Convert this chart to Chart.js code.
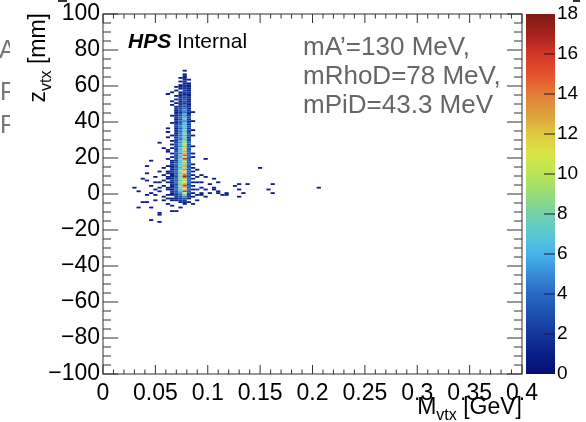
<!DOCTYPE html>
<html>
<head>
<meta charset="utf-8">
<script src="https://cdn.jsdelivr.net/npm/chart.js@4/dist/chart.umd.min.js"></script>
<style>
  html, body { margin: 0; padding: 0; background: #ffffff; }
  #wrap { width: 586px; height: 422px; }
</style>
</head>
<body>
<div id="wrap"><canvas id="chart" width="586" height="422"></canvas></div>
<script>
// 2D histogram: z_vtx [mm] vs M_vtx [GeV], bins 0.004 GeV x 1 mm
const MASS_BIN = 0.004
const Z_BIN = 1

// dense core near M = 78 MeV: lower edges of mass bins and z rows
const coreMass = [0.060, 0.064, 0.068, 0.072, 0.076, 0.080, 0.084]
const coreZ = [68, 67, 66, 65, 64, 63, 62, 61, 60, 59, 58, 57, 56, 55, 54, 53, 52, 51, 50, 49,
               48, 47, 46, 45, 44, 43, 42, 41, 40, 39, 38, 37, 36, 35, 34, 33, 32, 31, 30, 29,
               28, 27, 26, 25, 24, 23, 22, 21, 20, 19, 18, 17, 16, 15, 14, 13, 12, 11, 10, 9,
               8, 7, 6, 5, 4, 3, 2, 1, 0, -1, -2, -3, -4, -5, -6, -7, -8]
const coreCounts = [
  [0,0,0,0,1,0,0], [0,0,0,0,0,0,0], [0,0,0,0,1,0,0], [0,0,0,0,1,0,0], [0,0,0,1,1,0,0],
  [0,0,0,0,1,1,0], [0,0,0,1,2,0,0], [0,0,0,0,1,1,0], [0,0,0,1,2,1,0], [0,0,1,1,1,1,0],
  [0,0,0,1,2,1,0], [0,0,1,0,2,1,0], [0,1,0,1,2,2,0], [1,0,0,2,1,1,0], [0,0,1,1,3,1,0],
  [0,0,0,2,2,2,0], [0,0,1,2,3,1,0], [0,1,0,1,3,1,0], [0,0,1,2,2,2,0], [0,1,0,2,4,1,0],
  [0,0,1,2,3,2,0], [0,0,2,2,4,1,0], [0,0,1,3,5,2,0], [0,0,1,2,4,2,1], [0,0,2,3,6,1,0],
  [0,1,1,3,5,2,0], [0,0,2,4,6,3,0], [0,0,1,3,7,2,0], [0,0,2,4,5,2,1], [0,1,1,3,7,3,0],
  [0,0,2,4,6,2,0], [0,0,2,5,7,3,0], [1,0,1,3,6,2,0], [0,0,2,5,8,3,1], [1,0,2,4,7,2,0],
  [0,0,1,5,9,3,0], [0,1,2,4,6,3,1], [1,0,2,5,8,2,0], [0,0,3,4,7,3,0], [0,1,2,6,9,3,0],
  [0,0,2,5,9,4,0], [0,1,3,6,11,3,0], [0,0,2,5,8,3,1], [0,1,3,7,12,4,0], [1,0,2,6,10,3,0],
  [0,0,3,7,13,4,0], [0,1,3,5,9,3,1], [0,0,2,7,15,4,0], [0,1,3,6,10,4,1], [0,0,3,8,16,3,0],
  [0,1,2,7,9,4,0], [0,1,3,6,12,3,0], [0,2,4,7,8,4,1], [1,1,3,8,13,3,0], [0,2,4,6,10,4,1],
  [0,1,3,8,14,3,0], [1,2,4,9,11,4,1], [0,1,3,7,9,3,0], [0,2,4,9,15,4,1], [1,1,3,8,17,3,0],
  [0,2,4,9,12,4,1], [0,2,3,7,9,3,0], [1,1,4,9,11,4,1], [0,2,3,8,13,3,0], [0,1,4,9,16,4,1],
  [1,2,3,8,12,3,0], [0,1,4,7,10,4,1], [0,2,3,6,16,3,0], [0,1,3,5,11,3,1], [1,1,2,4,8,2,0],
  [0,0,2,3,5,2,1], [0,1,1,2,3,1,0], [0,0,1,2,2,0,0], [0,0,0,1,1,1,0], [0,0,0,0,1,0,0],
  [0,0,0,0,0,0,0], [0,0,0,1,0,0,0]
]

// scattered single bins away from the core (lower edges)
const scatterMass = [0.028, 0.032, 0.032, 0.036, 0.036, 0.040, 0.040, 0.040, 0.040, 0.040,
                     0.044, 0.044, 0.044, 0.044, 0.044, 0.048, 0.048, 0.048, 0.048, 0.052,
                     0.052, 0.052, 0.052, 0.052, 0.052, 0.052, 0.056, 0.056, 0.056, 0.056,
                     0.056, 0.056, 0.060, 0.060, 0.060, 0.060, 0.060, 0.060, 0.060, 0.060,
                     0.060, 0.064, 0.064, 0.064, 0.068,
                     0.084, 0.088, 0.088, 0.088, 0.088, 0.088, 0.092, 0.092, 0.092, 0.092,
                     0.096, 0.096, 0.096, 0.096, 0.100, 0.100, 0.104, 0.104, 0.104, 0.108,
                     0.108, 0.108, 0.112, 0.116, 0.116, 0.124, 0.128, 0.128, 0.128, 0.132,
                     0.136, 0.148, 0.156, 0.160, 0.160, 0.204,
                     0.048, 0.052, 0.056, 0.064, 0.064, 0.088, 0.092]
const scatterZ = [3, 1, -8, -5, 8, -5, 15, 11, 7, -1,
                  18, 0, -8, -15, 4, 6, -1, -4, 9, 12,
                  3, -11, -12, -16, 28, 1, 25, 7, -2, 4,
                  10, 14, 23, 19, 11, -6, 34, 55, 2, 8,
                  -3, -10, -4, -7, -10,
                  -6, 13, -4, 6, 2, 9, 10, 6, -1, 3,
                  19, 9, 2, -2, 5, 0, 8, 2, 3, 6,
                  0, 1, -1, -1, 0, 4, 5, 2, -2, 0,
                  5, 14, 2, 5, 0, 3,
                  2, 6, -4, 4, 10, -1, 0]
const scatterCount = [1, 1, 1, 1, 1, 1, 1, 1, 1, 1,
                      1, 1, 1, 1, 1, 1, 1, 1, 1, 1,
                      1, 1, 1, 1, 1, 1, 1, 1, 1, 1,
                      1, 1, 1, 1, 1, 1, 1, 1, 1, 1,
                      1, 1, 1, 1, 1,
                      1, 1, 1, 1, 2, 1, 1, 1, 1, 1,
                      1, 1, 1, 1, 1, 1, 1, 1, 1, 1,
                      1, 1, 1, 1, 1, 1, 1, 1, 1, 1,
                      1, 1, 1, 1, 1, 1,
                      1, 1, 1, 1, 1, 1, 1]

// axis ranges and tick labels
const massRange = [0, 0.4]
const zRange = [-100, 100]
const colorRange = [0, 18]
const paramLines = ['mA\u2019=130 MeV,', 'mRhoD=78 MeV,', 'mPiD=43.3 MeV']

// colour palette, one stop per integer count 0..18
const paletteStops = [
  [5, 15, 115], [10, 30, 135], [20, 55, 155], [30, 80, 175], [40, 105, 195],
  [55, 140, 215], [70, 180, 235], [90, 200, 210], [115, 210, 170], [150, 220, 120],
  [185, 230, 85], [215, 230, 70], [225, 200, 65], [220, 160, 60], [225, 125, 55],
  [230, 80, 45], [210, 55, 40], [165, 35, 30], [125, 25, 20]
]

function colorFor(c) {
  const t = Math.max(0, Math.min(18, c));
  const i = Math.min(17, Math.floor(t));
  const f = t - i;
  const a = paletteStops[i], b = paletteStops[i + 1];
  const mix = k => Math.round(a[k] + (b[k] - a[k]) * f);
  return `rgb(${mix(0)},${mix(1)},${mix(2)})`;
}

const cells = [];
coreZ.forEach((z, r) => {
  coreCounts[r].forEach((c, k) => {
    if (c > 0) cells.push({ x: coreMass[k] + MASS_BIN / 2, y: z + Z_BIN / 2, c: c });
  });
});
scatterMass.forEach((m, i) => {
  cells.push({ x: m + MASS_BIN / 2, y: scatterZ[i] + Z_BIN / 2, c: scatterCount[i] });
});

const FONT = '"Liberation Sans", Arial, Helvetica, sans-serif';

const cellPlugin = {
  id: 'cells',
  beforeDatasetsDraw(chart) {
    const { ctx, chartArea, scales } = chart;
    const xs = scales.x, ys = scales.y;
    ctx.save();
    ctx.beginPath();
    ctx.rect(chartArea.left, chartArea.top, chartArea.right - chartArea.left, chartArea.bottom - chartArea.top);
    ctx.clip();
    chart.data.datasets[0].data.forEach(p => {
      const x0 = xs.getPixelForValue(p.x - MASS_BIN / 2);
      const x1 = xs.getPixelForValue(p.x + MASS_BIN / 2);
      const y0 = ys.getPixelForValue(p.y - Z_BIN / 2);
      const y1 = ys.getPixelForValue(p.y + Z_BIN / 2);
      ctx.fillStyle = colorFor(p.c);
      ctx.fillRect(x0, y1, x1 - x0, y0 - y1);
    });
    ctx.restore();
  }
};

function drawRich(ctx, parts, x, y, align) {
  let w = 0;
  parts.forEach(p => { ctx.font = p.font; w += ctx.measureText(p.text).width; });
  let cx = align === 'right' ? x - w : x;
  parts.forEach(p => {
    ctx.font = p.font;
    ctx.fillText(p.text, cx, y + (p.dy || 0));
    cx += ctx.measureText(p.text).width;
  });
}

const framePlugin = {
  id: 'frame',
  afterDraw(chart) {
    const { ctx, chartArea, scales } = chart;
    const xs = scales.x, ys = scales.y, zc = scales.zc;
    const L = chartArea.left, R = chartArea.right, T = chartArea.top, B = chartArea.bottom;
    ctx.save();

    // colour bar
    const cbL = R + 4, cbR = R + 33;
    const cbTop = zc.getPixelForValue(colorRange[1]), cbBot = zc.getPixelForValue(colorRange[0]);
    const grad = ctx.createLinearGradient(0, cbBot, 0, cbTop);
    paletteStops.forEach((s, i) => grad.addColorStop(i / 18, `rgb(${s[0]},${s[1]},${s[2]})`));
    ctx.fillStyle = grad;
    ctx.fillRect(cbL, cbTop, cbR - cbL, cbBot - cbTop);
    ctx.strokeStyle = '#1a1a3a';
    ctx.lineWidth = 1;
    for (let v = 2; v < 18; v += 2) {
      const py = zc.getPixelForValue(v);
      ctx.beginPath(); ctx.moveTo(cbR - 11, py); ctx.lineTo(cbR, py); ctx.stroke();
    }

    // frame and ticks (ROOT style, inside the frame)
    ctx.strokeStyle = '#333333';
    ctx.lineWidth = 1;
    ctx.strokeRect(L, T, R - L, B - T);
    ctx.beginPath();
    for (let v = zRange[0]; v <= zRange[1]; v += 5) {
      const py = ys.getPixelForValue(v);
      const len = v % 20 === 0 ? 15 : 8;
      ctx.moveTo(L, py); ctx.lineTo(L + len, py);
      ctx.moveTo(R, py); ctx.lineTo(R - len, py);
    }
    for (let k = 0; k <= 40; k++) {
      const px = xs.getPixelForValue(k * 0.01);
      const len = k % 5 === 0 ? 9 : 4.5;
      ctx.moveTo(px, B); ctx.lineTo(px, B - len);
      ctx.moveTo(px, T); ctx.lineTo(px, T + len);
    }
    ctx.stroke();

    ctx.textAlign = 'left';
    ctx.textBaseline = 'alphabetic';

    // HPS Internal
    ctx.fillStyle = '#000000';
    drawRich(ctx, [
      { text: 'HPS', font: `italic bold 21px ${FONT}` },
      { text: ' Internal', font: `21px ${FONT}` }
    ], 128, 48, 'left');

    // signal parameters
    ctx.fillStyle = '#666666';
    ctx.font = `26px ${FONT}`;
    paramLines.forEach((t, i) => ctx.fillText(t, 303, 55 + i * 29));

    // x title
    ctx.fillStyle = '#000000';
    drawRich(ctx, [
      { text: 'M', font: `23px ${FONT}` },
      { text: 'vtx', font: `16px ${FONT}`, dy: 6 },
      { text: ' [GeV]', font: `23px ${FONT}` }
    ], 522, 414, 'right');

    // y title (rotated)
    ctx.save();
    ctx.translate(45, 13);
    ctx.rotate(-Math.PI / 2);
    drawRich(ctx, [
      { text: 'z', font: `23px ${FONT}` },
      { text: 'vtx', font: `16px ${FONT}`, dy: 6 },
      { text: ' [mm]', font: `23px ${FONT}` }
    ], 0, 0, 'right');
    ctx.restore();

    // fragments of neighbouring text cut off by the crop
    ctx.save();
    ctx.beginPath(); ctx.rect(0, 0, 10, 422); ctx.clip();
    ctx.fillStyle = '#777777';
    ctx.font = `25px ${FONT}`;
    ctx.fillText('A', -1, 58);
    ctx.fillText('F', 0, 100);
    ctx.fillText('F', 0, 133);
    ctx.restore();
    ctx.fillStyle = '#333333';
    ctx.fillRect(58, 0, 9, 2);
    ctx.fillRect(573, 0, 7, 2);

    ctx.restore();
  }
};

const minus = s => String(s).replace('-', '\u2212');
// fixed axis boxes; drop the label overhang padding so the plot frame stays put
const fixBox = (w, h) => s => {
  if (w !== null) s.width = w;
  if (h !== null) s.height = h;
  s.paddingTop = 0; s.paddingBottom = 0; s.paddingLeft = 0; s.paddingRight = 0;
};

new Chart(document.getElementById('chart'), {
  type: 'scatter',
  data: {
    datasets: [{
      data: cells,
      pointRadius: 0,
      pointHoverRadius: 0,
      showLine: false
    }]
  },
  options: {
    responsive: false,
    devicePixelRatio: 1,
    animation: false,
    events: [],
    layout: { padding: { left: 0, right: 0, top: 14, bottom: 0 } },
    plugins: {
      legend: { display: false },
      tooltip: { enabled: false }
    },
    scales: {
      x: {
        type: 'linear',
        position: 'bottom',
        min: massRange[0],
        max: massRange[1],
        grid: { display: false, drawTicks: false },
        border: { display: false },
        ticks: {
          stepSize: 0.05,
          autoSkip: false,
          maxRotation: 0,
          padding: 6,
          color: '#000000',
          font: { family: FONT, size: 23 },
          callback: v => String(+v.toFixed(3))
        },
        afterFit: fixBox(null, 48)
      },
      y: {
        type: 'linear',
        position: 'left',
        min: zRange[0],
        max: zRange[1],
        grid: { display: false, drawTicks: false },
        border: { display: false },
        ticks: {
          stepSize: 20,
          padding: 3,
          color: '#000000',
          font: { family: FONT, size: 23 },
          callback: v => minus(v)
        },
        afterFit: fixBox(103, null)
      },
      zc: {
        type: 'linear',
        position: 'right',
        min: colorRange[0],
        max: colorRange[1],
        grid: { display: false, drawTicks: false, drawOnChartArea: false },
        border: { display: false },
        ticks: {
          stepSize: 2,
          padding: 35,
          color: '#000000',
          font: { family: FONT, size: 19 }
        },
        afterFit: fixBox(64, null)
      }
    }
  },
  plugins: [cellPlugin, framePlugin]
});
</script>
</body>
</html>
